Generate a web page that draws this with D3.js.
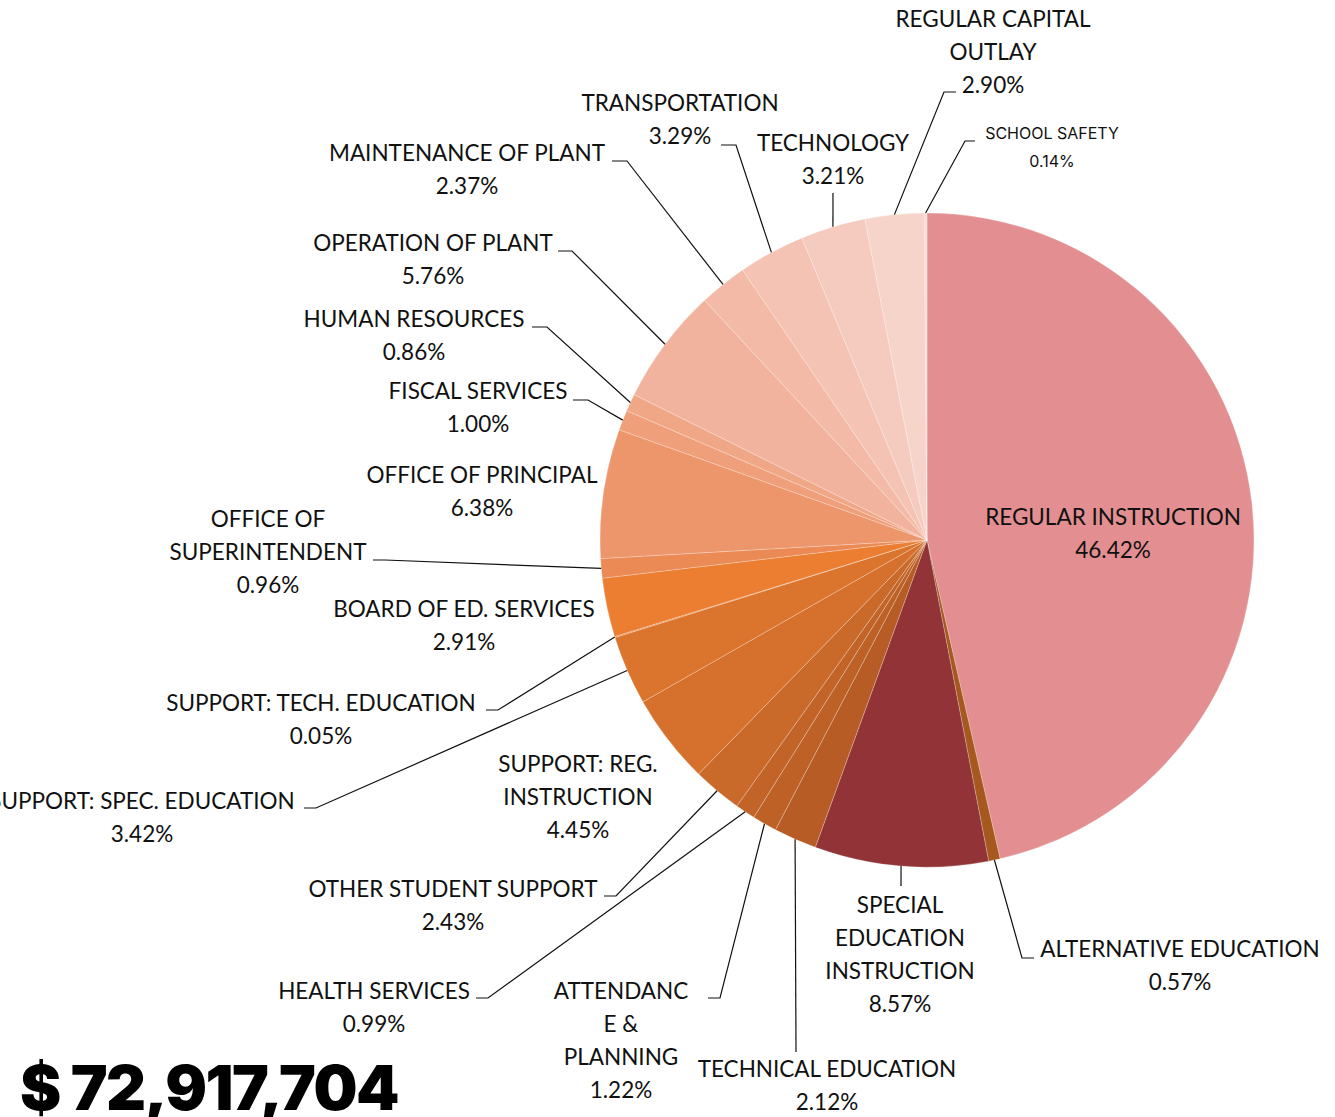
<!DOCTYPE html>
<html lang="en">
<head>
<meta charset="UTF-8">
<title>Budget pie</title>
<script src="https://cdn.jsdelivr.net/npm/d3@7"></script>
<style>
    body { margin: 0; background: #fff; }
    .lbl text { font-family: Lato, "Open Sans", sans-serif; font-size: 22.5px; fill: #111; }
    .lbl text.small { font-family: Inter, "Open Sans", sans-serif; font-size: 16px; }
    .leader { fill: none; stroke: #111; stroke-width: 1.2; }
    .total { font-family: Inter, Roboto, sans-serif; font-weight: 900; font-size: 62px; letter-spacing: -1.5px; fill: #000; }
</style>
</head>
<body>
<script>
// slices, clockwise from 12 o'clock
var categories = [
    "REGULAR INSTRUCTION", "ALTERNATIVE EDUCATION", "SPECIAL EDUCATION INSTRUCTION",
    "TECHNICAL EDUCATION", "ATTENDANCE & PLANNING", "HEALTH SERVICES",
    "OTHER STUDENT SUPPORT", "SUPPORT: REG. INSTRUCTION", "SUPPORT: SPEC. EDUCATION",
    "SUPPORT: TECH. EDUCATION", "BOARD OF ED. SERVICES", "OFFICE OF SUPERINTENDENT",
    "OFFICE OF PRINCIPAL", "FISCAL SERVICES", "HUMAN RESOURCES", "OPERATION OF PLANT",
    "MAINTENANCE OF PLANT", "TRANSPORTATION", "TECHNOLOGY", "REGULAR CAPITAL OUTLAY",
    "SCHOOL SAFETY"
];
var shares = [46.42, 0.57, 8.57, 2.12, 1.22, 0.99, 2.43, 4.45, 3.42, 0.05, 2.91,
    0.96, 6.38, 1.00, 0.86, 5.76, 2.37, 3.29, 3.21, 2.90, 0.14];
var colors = [
    "#e38f91", "#a6581e", "#913337", "#b65c24", "#bd6126", "#c26427",
    "#c9692a", "#d5712c", "#db752e", "#e07930", "#ec7e32", "#ec8a55",
    "#ed956b", "#ef9f7a", "#f0a786", "#f2b39e", "#f3bba7", "#f4c3b3",
    "#f5cbbf", "#f6d4ca", "#f8dbd4"
];
// how each label is broken into lines
var labelLines = [
    ["REGULAR INSTRUCTION"], ["ALTERNATIVE EDUCATION"], ["SPECIAL", "EDUCATION", "INSTRUCTION"],
    ["TECHNICAL EDUCATION"], ["ATTENDANC", "E &", "PLANNING"], ["HEALTH SERVICES"],
    ["OTHER STUDENT SUPPORT"], ["SUPPORT: REG.", "INSTRUCTION"], ["SUPPORT: SPEC. EDUCATION"],
    ["SUPPORT: TECH. EDUCATION"], ["BOARD OF ED. SERVICES"], ["OFFICE OF", "SUPERINTENDENT"],
    ["OFFICE OF PRINCIPAL"], ["FISCAL SERVICES"], ["HUMAN RESOURCES"], ["OPERATION OF PLANT"],
    ["MAINTENANCE OF PLANT"], ["TRANSPORTATION"], ["TECHNOLOGY"], ["REGULAR CAPITAL", "OUTLAY"],
    ["SCHOOL SAFETY"]
];
var totalText = "$ 72,917,704";

// label placement: centre x, first line y, leader elbow [x,y] and end x (null = no leader)
var labelLayout = [
    {x: 1113, y: 517, elbow: null},
    {x: 1180, y: 949, elbow: [1022, 958], end: 1034},
    {x: 900, y: 905, elbow: [901, 886], end: 901},
    {x: 827, y: 1069, elbow: [796, 1052], end: 796},
    {x: 621, y: 991, elbow: [720, 998], end: 708},
    {x: 374, y: 991, elbow: [488, 998], end: 476},
    {x: 453, y: 889, elbow: [616, 896], end: 604},
    {x: 578, y: 764, elbow: null},
    {x: 142, y: 801, elbow: [316, 808], end: 304},
    {x: 321, y: 703, elbow: [498, 710], end: 486},
    {x: 464, y: 609, elbow: null},
    {x: 268, y: 519, elbow: [385, 560], end: 373},
    {x: 482, y: 475, elbow: null},
    {x: 478, y: 391, elbow: [588, 400], end: 573},
    {x: 414, y: 319, elbow: [547, 327], end: 532},
    {x: 433, y: 243, elbow: [572, 251], end: 558},
    {x: 467, y: 153, elbow: [627, 161], end: 612},
    {x: 680, y: 103, elbow: [736, 145], end: 721},
    {x: 833, y: 143, elbow: [833, 193], end: 833},
    {x: 993, y: 19, elbow: [944, 92], end: 956},
    {x: 1052, y: 133, elbow: [965, 141], end: 975, small: true}
];

var width = 1335, height = 1117;
var cx = 927, cy = 540, radius = 327;
var lineH = 33;

var data = categories.map(function (c, i) {
    return {name: c, share: shares[i], color: colors[i], lines: labelLines[i], layout: labelLayout[i]};
});

var svg = d3.select("body").append("svg")
    .attr("width", width)
    .attr("height", height);

var pie = d3.pie().sort(null).value(function (d) { return d.share; });
var arc = d3.arc().innerRadius(0).outerRadius(radius);
var arcs = pie(data);

var g = svg.append("g").attr("transform", "translate(" + cx + "," + cy + ")");

g.selectAll("path.slice")
    .data(arcs)
    .enter().append("path")
    .attr("class", "slice")
    .attr("d", arc)
    .attr("fill", function (d) { return d.data.color; })
    .attr("stroke", "rgba(255,255,255,0.35)")
    .attr("stroke-width", 0.7);

// leader lines start on the rim at the slice's middle angle
svg.selectAll("path.leader")
    .data(arcs.filter(function (d) { return d.data.layout.elbow; }))
    .enter().append("path")
    .attr("class", "leader")
    .attr("d", function (d) {
        var a = (d.startAngle + d.endAngle) / 2;
        var p0 = [cx + radius * Math.sin(a), cy - radius * Math.cos(a)];
        var e = d.data.layout.elbow;
        return d3.line()([p0, e, [d.data.layout.end, e[1]]]);
    });

var fmt = d3.format(".2f");
var lbl = svg.append("g").attr("class", "lbl");

arcs.forEach(function (d) {
    var L = d.data.layout;
    var lines = d.data.lines.concat([fmt(d.data.share) + "%"]);
    var step = L.small ? 28 : lineH;
    var t = lbl.append("text")
        .attr("text-anchor", "middle")
        .classed("small", !!L.small);
    lines.forEach(function (s, k) {
        t.append("tspan")
            .attr("x", L.x)
            .attr("y", L.y + k * step)
            .attr("dy", "0.35em")
            .text(s);
    });
});

svg.append("text")
    .attr("class", "total")
    .attr("x", 20)
    .attr("y", 1110)
    .text(totalText);
</script>
</body>
</html>
